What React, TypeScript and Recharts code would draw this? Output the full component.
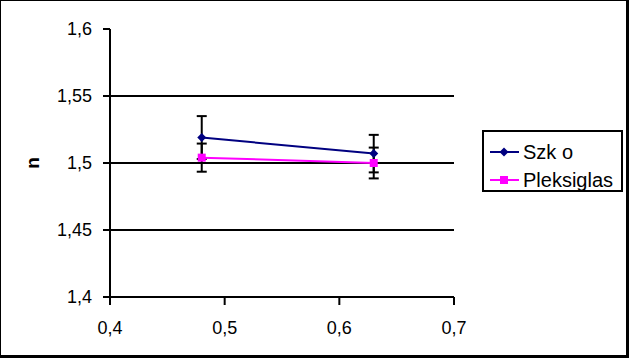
import React from "react";
import { ScatterChart, Scatter, XAxis, YAxis, ErrorBar, ReferenceLine, Legend } from "recharts";

// wavelength (um) vs refractive index
const szkoData = [
  { x: 0.48, y: 1.519, err: 0.016 },
  { x: 0.63, y: 1.507, err: 0.014 },
];
const pleksiData = [
  { x: 0.48, y: 1.504, err: 0.0105 },
  { x: 0.63, y: 1.5, err: 0.0115 },
];
const xTicks = [0.4, 0.5, 0.6, 0.7];
const yTicks = [1.4, 1.45, 1.5, 1.55, 1.6];
const gridValues = [1.45, 1.5, 1.55];

const series = [
  { name: "Szk o", data: szkoData, color: "#000080", shape: "diamond" },
  { name: "Pleksiglas", data: pleksiData, color: "#FF00FF", shape: "square" },
];

const FONT = "'Liberation Sans', Arial, sans-serif";
const fmt = (v: number) => String(v).replace(".", ",");

function Marker({ cx, cy, fill, kind }: any) {
  if (cx == null || cy == null) return null;
  if (kind === "diamond") {
    return <polygon points={`${cx},${cy - 4.5} ${cx + 4.5},${cy} ${cx},${cy + 4.5} ${cx - 4.5},${cy}`} fill={fill} />;
  }
  return <rect x={cx - 4} y={cy - 4} width={8} height={8} fill={fill} />;
}

function LegendBox() {
  return (
    <div
      style={{
        border: "2px solid #000",
        boxSizing: "border-box",
        width: 141,
        height: 62,
        background: "#fff",
        padding: "6px 0 0 6px",
        fontFamily: FONT,
        fontSize: 20,
      }}
    >
      {series.map((s) => (
        <div key={s.name} style={{ display: "flex", alignItems: "center", height: 28 }}>
          <svg width={33} height={12} style={{ flex: "none" }}>
            <line x1={0} y1={6} x2={29} y2={6} stroke={s.color} strokeWidth={2} />
            <Marker cx={14} cy={6} fill={s.color} kind={s.shape} />
          </svg>
          <span style={{ lineHeight: "20px" }}>{s.name}</span>
        </div>
      ))}
    </div>
  );
}

export default function App() {
  return (
    <div style={{ position: "absolute", left: 0, top: 0, width: 629, height: 358, background: "#fff" }}>
      <ScatterChart width={629} height={358} margin={{ top: 29, right: 175, bottom: 0, left: 0 }}>
        <XAxis
          type="number"
          dataKey="x"
          domain={[0.4, 0.7]}
          ticks={xTicks}
          tickFormatter={fmt}
          height={61}
          stroke="#000"
          strokeWidth={2}
          tickSize={8}
          tickMargin={16}
          tick={{ fill: "#000", fontSize: 18, fontFamily: FONT }}
        />
        <YAxis
          type="number"
          dataKey="y"
          domain={[1.4, 1.6]}
          ticks={yTicks}
          tickFormatter={fmt}
          width={110}
          stroke="#000"
          strokeWidth={2}
          tickSize={7}
          tickMargin={11}
          tick={{ fill: "#000", fontSize: 18, fontFamily: FONT }}
          label={{
            value: "n",
            content: ({ viewBox }: any) => (
              <text
                x={viewBox.x + 32}
                y={viewBox.y + viewBox.height / 2}
                transform={`rotate(-90, ${viewBox.x + 32}, ${viewBox.y + viewBox.height / 2})`}
                textAnchor="middle"
                dominantBaseline="central"
                fontFamily={FONT}
                fontSize={19}
                fontWeight="bold"
                fill="#000"
              >
                n
              </text>
            ),
          }}
        />
        {gridValues.map((v) => (
          <ReferenceLine key={v} y={v} stroke="#000" strokeWidth={2} ifOverflow="visible" />
        ))}
        {series.map((s) => (
          <Scatter
            key={s.name}
            name={s.name}
            data={s.data}
            fill={s.color}
            line={{ stroke: s.color, strokeWidth: 2 }}
            lineType="joint"
            isAnimationActive={false}
            shape={(p: any) => <Marker cx={p.cx} cy={p.cy} fill={s.color} kind={s.shape} />}
          >
            <ErrorBar dataKey="err" direction="y" width={5} stroke="#000" strokeWidth={2} />
          </Scatter>
        ))}
        <Legend
          layout="vertical"
          align="center"
          verticalAlign="middle"
          wrapperStyle={{ left: 482, top: 130, width: 141, height: 62 }}
          content={() => <LegendBox />}
        />
      </ScatterChart>
      <div
        style={{
          position: "absolute",
          left: 0,
          top: 0,
          width: 629,
          height: 358,
          boxSizing: "border-box",
          borderLeft: "1px solid #000",
          borderTop: "1px solid #000",
          borderRight: "3px solid #000",
          borderBottom: "3px solid #000",
          pointerEvents: "none",
        }}
      />
    </div>
  );
}
